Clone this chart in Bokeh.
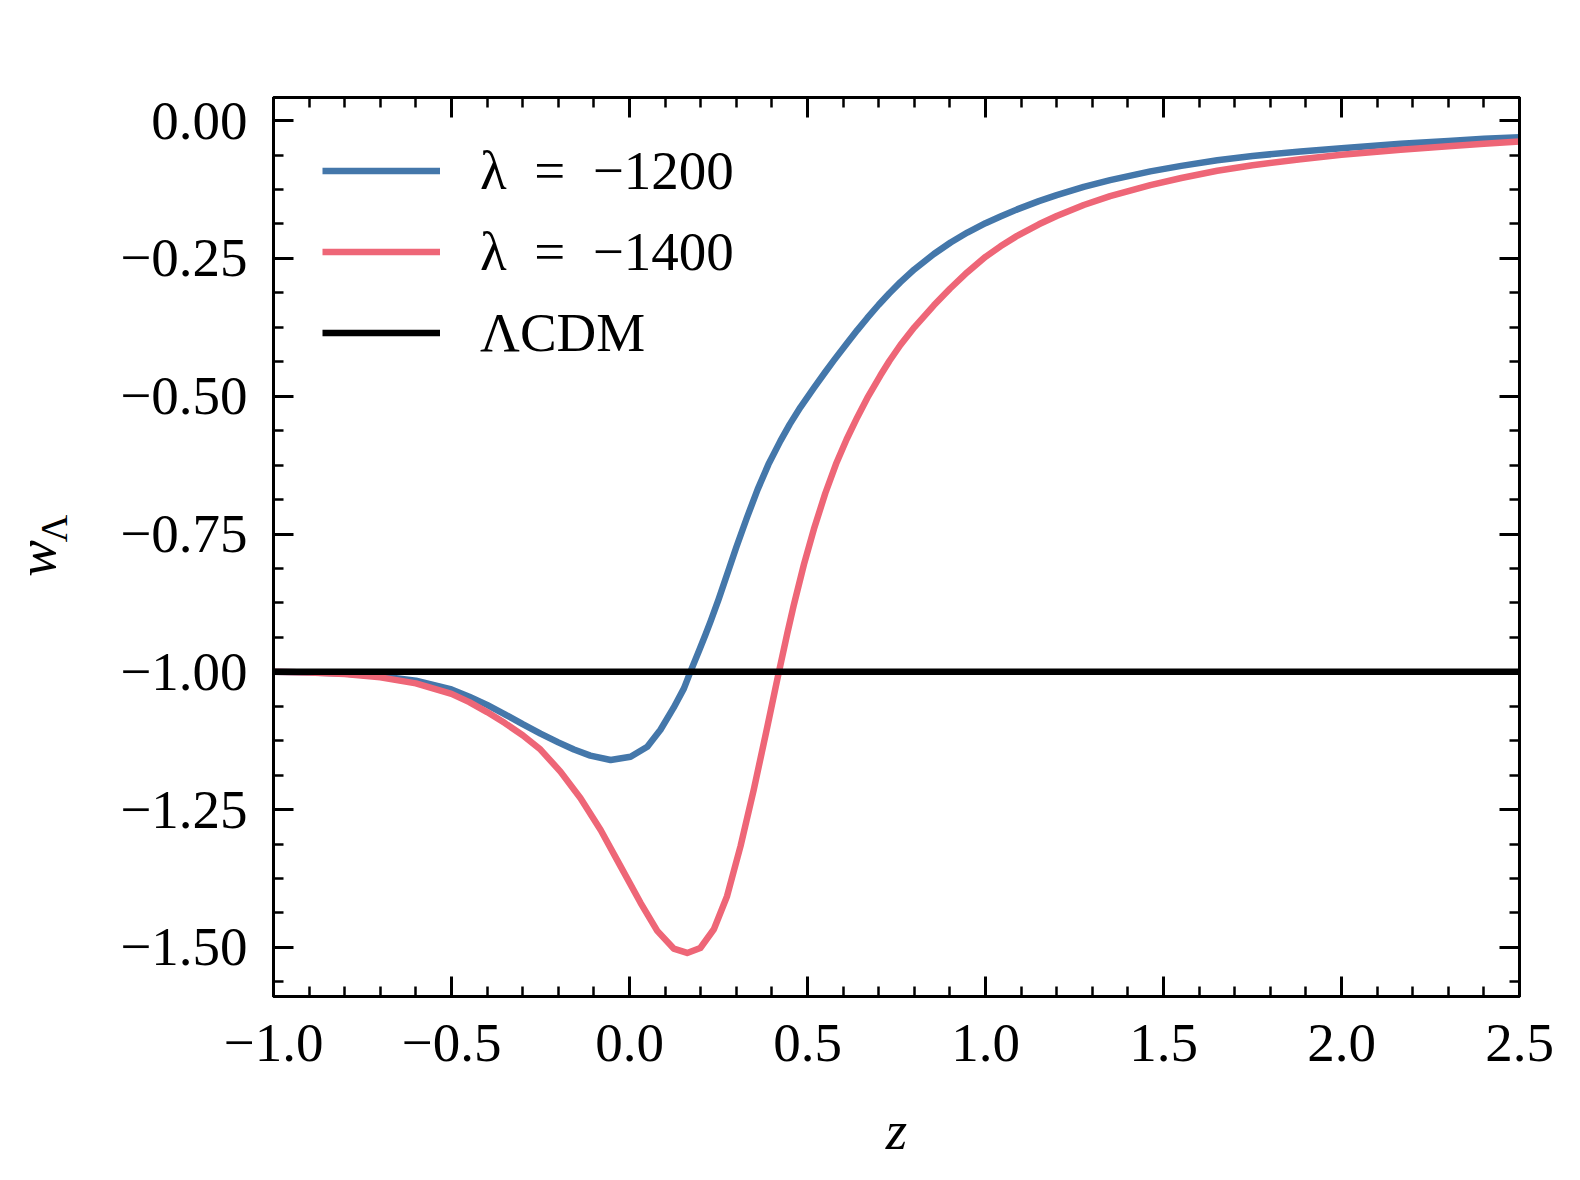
import numpy as np
from bokeh.plotting import figure
from bokeh.models import (Range1d, SingleIntervalTicker, CustomJSTickFormatter, LinearAxis,
                          Legend, LegendItem, Label)
from bokeh.embed import file_html
from bokeh.resources import INLINE

# ---- data ----
z_1200 = [-1.0, -0.9, -0.8, -0.7, -0.6, -0.5, -0.45, -0.4, -0.35, -0.3, -0.25, -0.2, -0.156,
          -0.11, -0.053, 0.003, 0.05, 0.087, 0.124, 0.153, 0.171, 0.195, 0.213, 0.228, 0.25,
          0.28, 0.30, 0.33, 0.36, 0.39, 0.424, 0.45, 0.48, 0.518, 0.55, 0.574, 0.611, 0.64,
          0.668, 0.70, 0.73, 0.761, 0.80, 0.855, 0.902, 0.949, 1.0, 1.042, 1.089, 1.15, 1.2,
          1.276, 1.35, 1.463, 1.55, 1.651, 1.75, 1.885, 2.0, 2.166, 2.3, 2.4, 2.5]
w_1200 = [-1.000, -1.001, -1.003, -1.008, -1.016, -1.032, -1.045, -1.060, -1.077, -1.095, -1.112,
          -1.128, -1.141, -1.152, -1.160, -1.154, -1.136, -1.105, -1.065, -1.030, -1.000, -0.962,
          -0.933, -0.908, -0.869, -0.812, -0.774, -0.720, -0.669, -0.624, -0.581, -0.551, -0.520,
          -0.485, -0.456, -0.435, -0.404, -0.380, -0.358, -0.334, -0.313, -0.293, -0.270, -0.242,
          -0.221, -0.203, -0.186, -0.174, -0.161, -0.146, -0.135, -0.120, -0.108, -0.092, -0.082,
          -0.072, -0.064, -0.056, -0.050, -0.042, -0.037, -0.033, -0.030]

z_1400 = [-1.0, -0.9, -0.8, -0.7, -0.6, -0.5, -0.45, -0.4, -0.35, -0.3, -0.25, -0.194, -0.138,
          -0.081, -0.025, 0.031, 0.078, 0.124, 0.162, 0.199, 0.237, 0.274, 0.312, 0.349, 0.387,
          0.415, 0.443, 0.461, 0.49, 0.518, 0.55, 0.58, 0.61, 0.64, 0.668, 0.705, 0.73, 0.761,
          0.80, 0.855, 0.90, 0.949, 1.0, 1.042, 1.089, 1.15, 1.2, 1.276, 1.35, 1.463, 1.55,
          1.651, 1.75, 1.885, 2.0, 2.166, 2.3, 2.4, 2.5]
w_1400 = [-1.000, -1.001, -1.004, -1.010, -1.021, -1.040, -1.055, -1.073, -1.093, -1.115, -1.141,
          -1.181, -1.229, -1.287, -1.353, -1.419, -1.470, -1.502, -1.510, -1.501, -1.467, -1.407,
          -1.316, -1.214, -1.100, -1.014, -0.931, -0.880, -0.805, -0.741, -0.676, -0.623, -0.578,
          -0.538, -0.503, -0.462, -0.436, -0.407, -0.375, -0.335, -0.305, -0.275, -0.247, -0.228,
          -0.209, -0.188, -0.173, -0.153, -0.137, -0.117, -0.104, -0.091, -0.081, -0.070, -0.062,
          -0.053, -0.0465, -0.042, -0.038]

z_lcdm = [-1.0, 2.5]
w_lcdm = [-1.0, -1.0]

series_labels = ["λ\u2002=\u2002−1200", "λ\u2002=\u2002−1400", "ΛCDM"]
series_colors = ["#4477AA", "#EE6677", "#000000"]

x_start, x_end = -1.0, 2.5
y_start, y_end = -1.589, 0.042
x_major_step, y_major_step = 0.5, 0.25

FONT = "Liberation Serif"

p = figure(frame_width=1246, frame_height=899,
           x_range=Range1d(x_start, x_end), y_range=Range1d(y_start, y_end),
           output_backend="svg", toolbar_location=None,
           min_border_left=273, min_border_right=41, min_border_top=97, min_border_bottom=164)
p.grid.visible = False
p.outline_line_color = "black"
p.outline_line_width = 3
p.background_fill_color = "white"
p.border_fill_color = "white"

fmt_x = CustomJSTickFormatter(code="return tick.toFixed(1).replace('-', '\u2212');")
fmt_y = CustomJSTickFormatter(code="return tick.toFixed(2).replace('-', '\u2212');")
fmt_none = CustomJSTickFormatter(code="return '';")


def style_axis(ax, step, nminor, formatter, standoff):
    ax.ticker = SingleIntervalTicker(interval=step, num_minor_ticks=nminor)
    ax.formatter = formatter
    ax.axis_line_width = 3
    ax.axis_line_color = "black"
    ax.major_tick_line_width = 3
    ax.minor_tick_line_width = 2.5
    ax.major_tick_in = 20
    ax.major_tick_out = 0
    ax.minor_tick_in = 10
    ax.minor_tick_out = 0
    ax.major_label_text_font = FONT
    ax.major_label_text_font_size = "55px"
    ax.major_label_text_color = "black"
    ax.major_label_standoff = standoff


style_axis(p.xaxis[0], x_major_step, 5, fmt_x, 28)
style_axis(p.yaxis[0], y_major_step, 4, fmt_y, 26)
p.xaxis[0].axis_label = "z"
p.xaxis[0].axis_label_text_font = FONT
p.xaxis[0].axis_label_text_font_style = "italic"
p.xaxis[0].axis_label_text_font_size = "55px"
p.xaxis[0].axis_label_text_color = "black"
p.xaxis[0].axis_label_standoff = 36

top_ax = LinearAxis()
style_axis(top_ax, x_major_step, 5, fmt_none, 0)
p.add_layout(top_ax, "above")
right_ax = LinearAxis()
style_axis(right_ax, y_major_step, 4, fmt_none, 0)
p.add_layout(right_ax, "right")

r1 = p.line(z_1200, w_1200, line_color=series_colors[0], line_width=6.5, line_join="round")
r2 = p.line(z_1400, w_1400, line_color=series_colors[1], line_width=6.5, line_join="round")
r3 = p.line(z_lcdm, w_lcdm, line_color=series_colors[2], line_width=6.5)

legend = Legend(items=[LegendItem(label=series_labels[0], renderers=[r1]),
                       LegendItem(label=series_labels[1], renderers=[r2]),
                       LegendItem(label=series_labels[2], renderers=[r3])],
                location=(49, 623), glyph_width=118, glyph_height=81, label_height=81,
                label_standoff=40, spacing=0, padding=0, margin=0,
                label_text_font=FONT, label_text_font_size="55px", label_text_color="black",
                background_fill_alpha=0, border_line_alpha=0)
p.add_layout(legend)

# y-axis title w_Λ (italic w with subscript Λ), placed in the left panel in canvas units
p.add_layout(Label(x=36, y=558, x_units="canvas", y_units="canvas", text="w",
                   angle=np.pi / 2, text_align="center", text_baseline="alphabetic",
                   text_font=FONT, text_font_style="italic", text_font_size="55px",
                   text_color="black"), "left")
p.add_layout(Label(x=53, y=528, x_units="canvas", y_units="canvas", text="Λ",
                   angle=np.pi / 2, text_align="center", text_baseline="alphabetic",
                   text_font=FONT, text_font_size="38px", text_color="black"), "left")

open("out.html", "w").write(file_html(p, INLINE))
